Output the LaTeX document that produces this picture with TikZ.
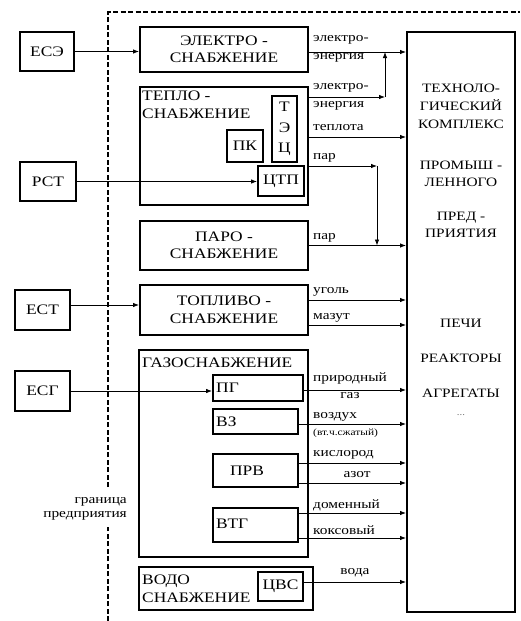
\documentclass[tikz,border=0pt]{standalone}
\usepackage{fontspec}
\setmainfont{Liberation Serif}[FakeStretch=1.2]
\usetikzlibrary{arrows.meta}
\newcommand\bxfont{\rmfamily\fontsize{14.5}{17.5}\selectfont}
\newcommand\lbfont{\rmfamily\fontsize{12.8}{14}\selectfont}
\newcommand\smfont{\rmfamily\fontsize{9.5}{11}\selectfont}
\begin{document}
\begin{tikzpicture}[x=1pt,y=-1pt,
  box/.style={draw, line width=2pt, inner sep=0pt, align=center, font=\bxfont},
  ibox/.style={draw, line width=1.8pt, inner sep=0pt, align=center, font=\bxfont},
  txt/.style={inner sep=0pt, align=center, font=\bxfont},
  lab/.style={inner sep=0pt, anchor=west, font=\lbfont},
  arr/.style={-{Latex[length=6pt,width=4.5pt]}, line width=0.8pt},
  bound/.style={line width=2pt, dash pattern=on 5pt off 2.5pt}]
\useasboundingbox (0,0) rectangle (520,621);
% boundary
\draw[bound] (108,621) -- (108,527);
\draw[bound] (108,487) -- (108,12) -- (520,12);
\node[inner sep=0pt, align=right, anchor=east, font=\lbfont] (gr) at (127,509) {граница\\предприятия};
% external
\node[box, minimum width=54pt, minimum height=39pt] (ese) at (47,51.5) {ЕСЭ};
\node[box, minimum width=56pt, minimum height=39pt] (rst) at (48,181.5) {РСТ};
\node[box, minimum width=55pt, minimum height=40pt] (est) at (42.5,310) {ЕСТ};
\node[box, minimum width=55pt, minimum height=40pt] (esg) at (42.5,391) {ЕСГ};
% internal
\node[box, minimum width=168pt, minimum height=45pt] (el) at (224,49.5) {ЭЛЕКТРО -\\СНАБЖЕНИЕ};
\node[box, minimum width=168pt, minimum height=118pt] (teplo) at (224,146) {};
\node[txt, anchor=north west, align=left] (teplot) at (142,91) {ТЕПЛО -\\СНАБЖЕНИЕ};
\node[ibox, minimum width=36pt, minimum height=32pt] (pk) at (245,146) {ПК};
\node[ibox, minimum width=25pt, minimum height=66pt, font=\rmfamily\fontsize{14.5}{20.5}\selectfont] (tec) at (284.5,129) {Т\\Э\\Ц};
\node[ibox, minimum width=46pt, minimum height=30pt] (ctp) at (281,181) {ЦТП};
\node[box, minimum width=168pt, minimum height=49pt] (paro) at (224,245.5) {ПАРО -\\СНАБЖЕНИЕ};
\node[box, minimum width=168pt, minimum height=50pt] (topl) at (224,310) {ТОПЛИВО -\\СНАБЖЕНИЕ};
\node[box, minimum width=169pt, minimum height=207pt] (gaz) at (223.5,453.5) {};
\node[txt, anchor=west] (gazt) at (142,363) {ГАЗОСНАБЖЕНИЕ};
\node[ibox, minimum width=90pt, minimum height=26pt] (pg) at (258,388) {};
\node[txt, anchor=west] (pgt) at (216,388) {ПГ};
\node[ibox, minimum width=85pt, minimum height=25pt] (vz) at (255.5,421.5) {};
\node[txt, anchor=west] (vzt) at (216,421.5) {ВЗ};
\node[ibox, minimum width=85pt, minimum height=33pt] (prv) at (255.5,470.5) {};
\node[txt] (prvt) at (247,470.5) {ПРВ};
\node[ibox, minimum width=85pt, minimum height=34pt] (vtg) at (255.5,525) {};
\node[txt, anchor=west] (vtgt) at (216,524) {ВТГ};
\node[box, minimum width=174pt, minimum height=43pt] (vodo) at (226,588.5) {};
\node[txt, anchor=west, align=left] (vodot) at (142,589) {ВОДО\\СНАБЖЕНИЕ};
\node[ibox, line width=1.4pt, minimum width=45pt, minimum height=29pt] (cvs) at (280.5,586.5) {ЦВС};
% big box
\node[box, minimum width=108pt, minimum height=580pt] (big) at (461,322) {};
\node[txt, font=\rmfamily\fontsize{12.8}{18}\selectfont] (b1) at (461,106) {ТЕХНОЛО-\\ГИЧЕСКИЙ\\КОМПЛЕКС};
\node[txt, font=\rmfamily\fontsize{12.8}{17}\selectfont] (b2) at (461,173.5) {ПРОМЫШ -\\ЛЕННОГО};
\node[txt, font=\rmfamily\fontsize{12.8}{17}\selectfont] (b3) at (461,224.5) {ПРЕД -\\ПРИЯТИЯ};
\node[txt, font=\rmfamily\fontsize{12.8}{15}\selectfont] (b4) at (461,323) {ПЕЧИ};
\node[txt, font=\rmfamily\fontsize{12.8}{15}\selectfont] (b5) at (461,358) {РЕАКТОРЫ};
\node[txt, font=\rmfamily\fontsize{12.8}{15}\selectfont] (b6) at (461,393) {АГРЕГАТЫ};
\node[txt, font=\rmfamily\fontsize{9}{10}\selectfont, text=black!60] (b7) at (461,415) {...};
% inputs
\draw[arr] (ese.east) -- (ese.east -| el.west);
\draw[arr] (rst.east) -- (rst.east -| ctp.west);
\draw[arr] ([yshift=5pt]est.east) -- ([yshift=5pt]est.east -| topl.west);
\draw[arr] (esg.east) -- (esg.east -| pg.west);
% outputs
\coordinate (e1) at ([yshift=-2.5pt]el.east);
\draw[arr] (e1) -- (e1 -| big.west);
\node[lab] (l1) at (313,40) {электро-};
\node[lab] (l2) at (313,58) {энергия};
\coordinate (j1) at (385,52);
\coordinate (t1) at ([yshift=49pt]teplo.east);
\draw[arr] (t1) -- (t1 -| j1);
\draw[arr] (t1 -| j1) -- (j1);
\node[lab] (l3) at (313,88) {электро-};
\node[lab] (l4) at (313,106) {энергия};
\coordinate (t2) at ([yshift=9pt]teplo.east);
\draw[arr] (t2) -- (t2 -| big.west);
\node[lab] (l5) at (313,128) {теплота};
\coordinate (t3) at ([yshift=-20pt]teplo.east);
\coordinate (j2) at (377,245.5);
\draw[arr] (t3) -- (t3 -| j2);
\draw[arr] (t3 -| j2) -- (j2);
\node[lab] (l6) at (313,158) {пар};
\draw[arr] (paro.east) -- (paro.east -| big.west);
\node[lab] (l7) at (313,238) {пар};
\coordinate (u1) at ([yshift=10pt]topl.east);
\draw[arr] (u1) -- (u1 -| big.west);
\node[lab] (l8) at (313,292) {уголь};
\coordinate (u2) at ([yshift=-15pt]topl.east);
\draw[arr] (u2) -- (u2 -| big.west);
\node[lab] (l9) at (313,318) {мазут};
\coordinate (g1) at ([yshift=-2pt]pg.east);
\draw[arr] (g1) -- (g1 -| big.west);
\node[lab] (l10) at (313,378) {природный};
\node[lab, anchor=center] (l11) at (350,396) {газ};
\coordinate (g2) at ([yshift=-2.5pt]vz.east);
\draw[arr] (g2) -- (g2 -| big.west);
\node[lab] (l12) at (313,417) {воздух};
\node[lab, font=\smfont] (l13) at (313,433) {(вт.ч.сжатый)};
\coordinate (g3) at ([yshift=7.5pt]prv.east);
\draw[arr] (g3) -- (g3 -| big.west);
\node[lab] (l14) at (313,455) {кислород};
\coordinate (g4) at ([yshift=-12.5pt]prv.east);
\draw[arr] (g4) -- (g4 -| big.west);
\node[lab, anchor=center] (l15) at (357,475) {азот};
\coordinate (g5) at ([yshift=12pt]vtg.east);
\draw[arr] (g5) -- (g5 -| big.west);
\node[lab] (l16) at (313,505) {доменный};
\coordinate (g6) at ([yshift=-13pt]vtg.east);
\draw[arr] (g6) -- (g6 -| big.west);
\node[lab] (l17) at (313,530) {коксовый};
\coordinate (w1) at ([yshift=4.5pt]cvs.east);
\draw[arr] (w1) -- (w1 -| big.west);
\node[lab, anchor=center] (l18) at (355,573) {вода};
\end{tikzpicture}
\end{document}
